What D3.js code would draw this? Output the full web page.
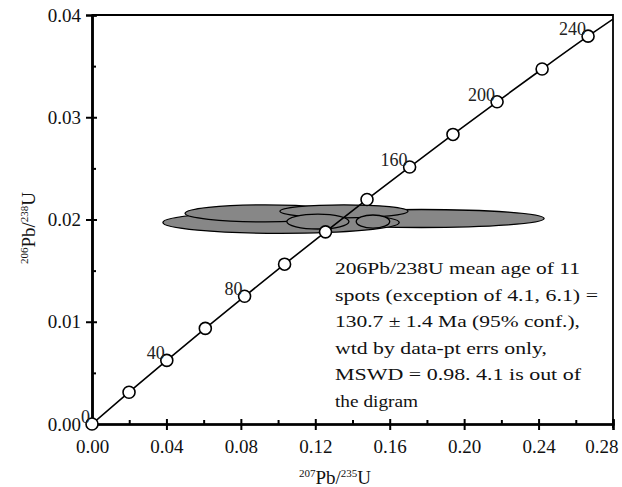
<!DOCTYPE html>
<html lang="en">
  <head>
    <meta charset="UTF-8" />
    <title>Concordia</title>
    <style>
      body { margin: 0; background: #fff; }
      text { font-family: "Liberation Serif", "Times New Roman", serif; }
    </style>
  </head>
  <body>
    <svg id="svg" width="622" height="487"></svg>

    <script src="https://cdn.jsdelivr.net/npm/d3@7"></script>
    <script>
      const WIDTH = 622;
      const HEIGHT = 487;
      const LEFT = 92;
      const RIGHT = 613;
      const TOP = 15;
      const BOTTOM = 424;

      // concordia points every 20 Ma (207Pb/235U, 206Pb/238U)
      const ages = [0, 20, 40, 60, 80, 100, 120, 140, 160, 180, 200, 220, 240];
      const concX = [0, 0.0199, 0.0402, 0.0609, 0.082, 0.1035, 0.1255, 0.1478, 0.1707, 0.194, 0.2177, 0.2419, 0.2666];
      const concY = [0, 0.00311, 0.00622, 0.00935, 0.01249, 0.01563, 0.01879, 0.02196, 0.02513, 0.02832, 0.03151, 0.03472, 0.03793];
      // where the curve leaves the box
      const curveEndX = 0.28;
      const curveEndY = 0.0396;
      const labelledAges = [0, 40, 80, 160, 200, 240];

      // error ellipses (centre and half-widths)
      const ellX = [0.177, 0.1016, 0.093, 0.1354, 0.1214, 0.151];
      const ellY = [0.0201, 0.0197, 0.0206, 0.0208, 0.0198, 0.0198];
      const ellRx = [0.066, 0.0635, 0.043, 0.0344, 0.0167, 0.009];
      const ellRy = [0.00088, 0.00105, 0.00083, 0.00064, 0.00073, 0.00064];

      const xTicks = [0, 0.04, 0.08, 0.12, 0.16, 0.2, 0.24, 0.28];
      const xMinor = [0.02, 0.06, 0.1, 0.14, 0.18, 0.22, 0.26];
      const yTicks = [0, 0.01, 0.02, 0.03, 0.04];
      const yMinor = [0.005, 0.015, 0.025, 0.035];

      const note = [
        "206Pb/238U mean age of 11",
        "spots (exception of 4.1, 6.1) =",
        "130.7 \u00b1 1.4 Ma (95% conf.),",
        "wtd by data-pt errs only,",
        "MSWD = 0.98.  4.1 is out of",
        "the digram",
      ];
      const noteWidths = [245, 263, 245, 212, 246, 83];

      const x = d3.scaleLinear().domain([0, 0.28]).range([LEFT, RIGHT]);
      const y = d3.scaleLinear().domain([0, 0.04]).range([BOTTOM, TOP]);

      const svg = d3.select("#svg");
      svg.append("rect").attr("width", WIDTH).attr("height", HEIGHT).attr("fill", "#fff");

      svg.append("clipPath").attr("id", "plot")
        .append("rect").attr("x", LEFT).attr("y", TOP)
        .attr("width", RIGHT - LEFT).attr("height", BOTTOM - TOP);

      // ellipses
      svg.append("g")
        .selectAll("ellipse")
        .data(ellX.map((d, i) => i))
        .enter()
        .append("ellipse")
        .attr("cx", (i) => x(ellX[i]))
        .attr("cy", (i) => y(ellY[i]))
        .attr("rx", (i) => x(ellRx[i]) - x(0))
        .attr("ry", (i) => y(0) - y(ellRy[i]))
        .attr("fill", "#878787")
        .attr("stroke", "#000")
        .attr("stroke-width", 1.3);

      // concordia curve
      const pts = concX.map((d, i) => [d, concY[i]]).concat([[curveEndX, curveEndY]]);
      const line = d3.line()
        .x((d) => x(d[0]))
        .y((d) => y(d[1]))
        .curve(d3.curveMonotoneX);
      svg.append("path")
        .attr("d", line(pts))
        .attr("clip-path", "url(#plot)")
        .attr("fill", "none")
        .attr("stroke", "#000")
        .attr("stroke-width", 1.6);

      // axes
      const fmt = d3.format(".2f");
      const xAxis = svg.append("g")
        .attr("transform", `translate(0, ${BOTTOM})`)
        .call(d3.axisBottom(x).tickValues(xTicks).tickFormat(fmt).tickSize(6).tickPadding(10));
      svg.append("g")
        .attr("transform", `translate(0, ${BOTTOM})`)
        .call(d3.axisTop(x).tickValues(xTicks).tickFormat("").tickSize(5));
      svg.append("g")
        .attr("transform", `translate(0, ${BOTTOM})`)
        .call(d3.axisTop(x).tickValues(xMinor).tickFormat("").tickSize(4));

      svg.append("g")
        .attr("transform", `translate(${LEFT}, 0)`)
        .call(d3.axisLeft(y).tickValues(yTicks).tickFormat(fmt).tickSize(6).tickPadding(5));
      svg.append("g")
        .attr("transform", `translate(${LEFT}, 0)`)
        .call(d3.axisRight(y).tickValues(yTicks).tickFormat("").tickSize(5));
      svg.append("g")
        .attr("transform", `translate(${LEFT}, 0)`)
        .call(d3.axisRight(y).tickValues(yMinor).tickFormat("").tickSize(4));

      svg.selectAll(".domain").attr("stroke-width", 2.2);
      svg.selectAll(".tick line").attr("stroke-width", 2);
      svg.selectAll(".tick text")
        .attr("font-size", 19)
        .attr("font-family", "Liberation Serif")
        .attr("fill", "#111");
      // last x label is pulled inside the picture
      xAxis.selectAll(".tick:last-of-type text")
        .attr("text-anchor", "end")
        .attr("x", 5);

      // frame top and right
      svg.append("path")
        .attr("d", `M${LEFT},${TOP}H${RIGHT}V${BOTTOM + 4}`)
        .attr("fill", "none")
        .attr("stroke", "#000")
        .attr("stroke-width", 1.8);

      // age circles
      svg.append("g")
        .selectAll("circle")
        .data(ages.map((d, i) => i))
        .enter()
        .append("circle")
        .attr("cx", (i) => x(concX[i]))
        .attr("cy", (i) => y(concY[i]))
        .attr("r", 6)
        .attr("fill", "#fff")
        .attr("stroke", "#000")
        .attr("stroke-width", 1.6);

      // age labels
      svg.append("g")
        .selectAll("text")
        .data(labelledAges)
        .enter()
        .append("text")
        .attr("x", (a) => x(concX[ages.indexOf(a)]) - 2)
        .attr("y", (a) => y(concY[ages.indexOf(a)]) - 1)
        .attr("text-anchor", "end")
        .attr("font-size", 18)
        .attr("fill", "#222")
        .text((a) => a);

      // note
      svg.append("g")
        .selectAll("text")
        .data(note)
        .enter()
        .append("text")
        .attr("x", 335)
        .attr("y", (d, i) => 274 + i * 26.6)
        .attr("font-size", 17)
        .attr("textLength", (d, i) => noteWidths[i])
        .attr("lengthAdjust", "spacingAndGlyphs")
        .attr("fill", "#111")
        .text((d) => d);

      // axis titles
      function title(g, sup1, sup2) {
        g.append("tspan").attr("font-size", 11).attr("dy", -7).text(sup1);
        g.append("tspan").attr("font-size", 19).attr("dy", 7).text("Pb/");
        g.append("tspan").attr("font-size", 11).attr("dy", -7).text(sup2);
        g.append("tspan").attr("font-size", 19).attr("dy", 7).text("U");
      }
      const xt = svg.append("text")
        .attr("x", 335)
        .attr("y", 484)
        .attr("text-anchor", "middle")
        .attr("fill", "#111");
      title(xt, "207", "235");

      const yt = svg.append("text")
        .attr("transform", "translate(35, 228) rotate(-90)")
        .attr("text-anchor", "middle")
        .attr("fill", "#111");
      title(yt, "206", "238");
    </script>
  </body>
</html>
